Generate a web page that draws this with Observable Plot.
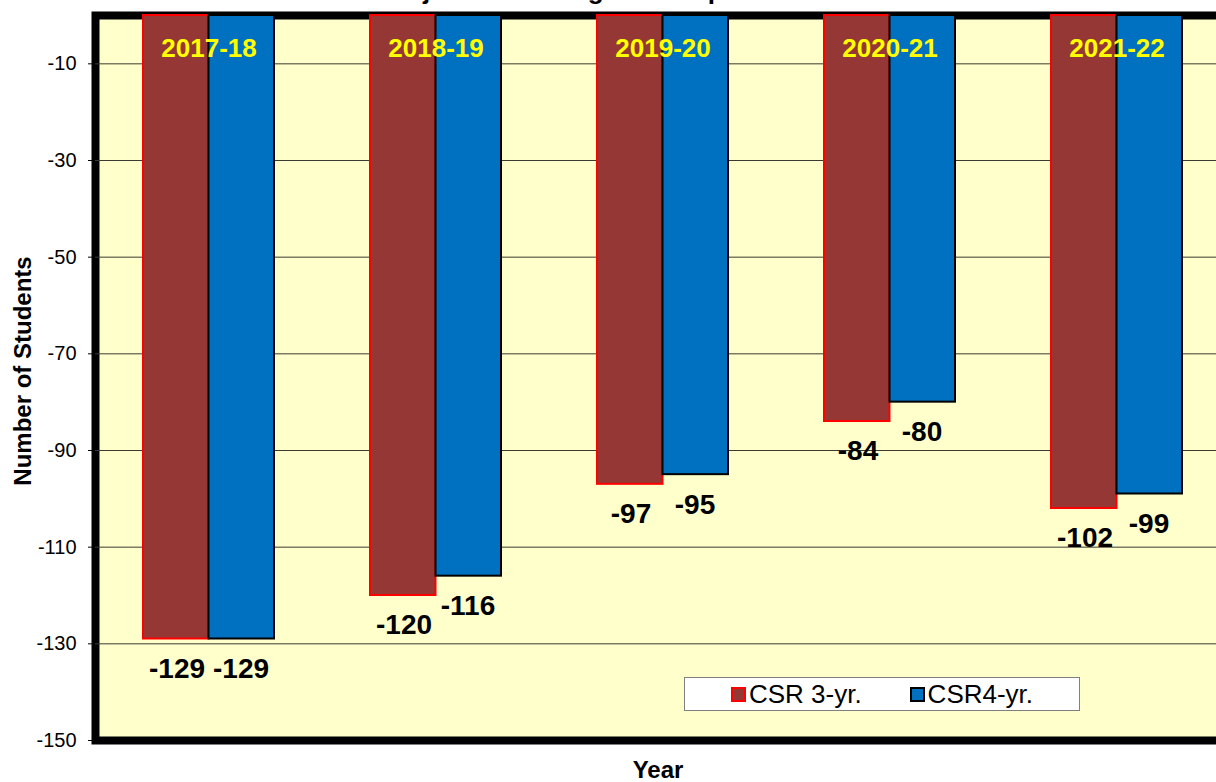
<!DOCTYPE html>
<html>
<head>
<meta charset="utf-8">
<script src="https://cdn.jsdelivr.net/npm/d3@7"></script>
<script src="https://cdn.jsdelivr.net/npm/@observablehq/plot@0.6"></script>
<style>
  html, body { margin: 0; padding: 0; background: #fff; overflow: hidden; }
  body { width: 1216px; height: 782px; font-family: Arial, "Liberation Sans", sans-serif; }
  #wrap { position: relative; width: 1216px; height: 782px; }
  #title { position: absolute; left: 0; width: 1216px; top: -23px; text-align: center;
           font-size: 26px; font-weight: bold; line-height: 26px; color: #000; }
  #chart { position: absolute; left: 0; top: 0; }
  #legend { position: absolute; left: 684px; top: 677px; width: 394px; height: 32px;
            background: #fff; border: 1px solid #808080; display: flex; align-items: center;
            justify-content: center; font-size: 26px; color: #000; }
  .item { display: flex; align-items: center; margin: 0 24px; }
  .sw { width: 11px; height: 11px; margin-right: 3px; }
</style>
</head>
<body>
<div id="wrap">
  <div id="title">Projected Kindergarten Replacement</div>
  <div id="chart"></div>
  <div id="legend">
    <div class="item"><div class="sw" id="sw3"></div><span id="lab3"></span></div>
    <div class="item"><div class="sw" id="sw4"></div><span id="lab4"></span></div>
  </div>
</div>
<script>
const years = ["2017-18", "2018-19", "2019-20", "2020-21", "2021-22"];
const csr3 = [-129, -120, -97, -84, -102];
const csr4 = [-129, -116, -95, -80, -99];
const seriesNames = ["CSR 3-yr.", "CSR4-yr."];
const yTicks = [-10, -30, -50, -70, -90, -110, -130, -150];
const gridTicks = [-10, -30, -50, -70, -90, -110, -130];

const colors = {
  fill3: "#953735", stroke3: "#FF0000",
  fill4: "#0070C0", stroke4: "#000000"
};

const d3rows = years.map((y, i) => ({year: y, value: csr3[i]}));
const d4rows = years.map((y, i) => ({year: y, value: csr4[i]}));

const font = 'Arial, "Liberation Sans", sans-serif';

const chart = Plot.plot({
  width: 1216,
  height: 782,
  marginLeft: 95,
  marginRight: -14,
  marginTop: 15,
  marginBottom: 42,
  style: { fontFamily: font, fontSize: "20px", color: "#000", background: "transparent", overflow: "visible" },
  x: { domain: years, padding: 0, axis: null },
  y: { domain: [-150, 0], ticks: yTicks, tickSize: 7, tickPadding: 12, tickFormat: d => String(d), label: null },
  marks: [
    Plot.frame({ fill: "#FFFFCC", stroke: "#000", strokeWidth: 8 }),
    Plot.ruleY(gridTicks, { stroke: "#3a3a30", strokeWidth: 1 }),
    Plot.barY(d3rows, { x: "year", y: "value", fill: colors.fill3, stroke: colors.stroke3, strokeWidth: 2, insetLeft: 48, insetRight: 113.5 }),
    Plot.barY(d4rows, { x: "year", y: "value", fill: colors.fill4, stroke: colors.stroke4, strokeWidth: 2, insetLeft: 113.5, insetRight: 48 }),
    Plot.text(years, { x: d => d, text: d => d, frameAnchor: "top", lineAnchor: "middle", dy: 33, fill: "#FFFF00", fontSize: 26, fontWeight: "bold" }),
    Plot.text(d3rows, { x: "year", y: "value", text: d => String(d.value), dx: -32, dy: 30, fontSize: 28, fontWeight: "bold", fill: "#000" }),
    Plot.text(d4rows, { x: "year", y: "value", text: d => String(d.value), dx: 32, dy: 30, fontSize: 28, fontWeight: "bold", fill: "#000" }),
    Plot.text(["Number of Students"], { text: d => d, frameAnchor: "left", textAnchor: "middle", lineAnchor: "middle", rotate: -90, dx: -72, dy: -7, fontSize: 24, fontWeight: "bold", fill: "#000" }),
    Plot.text(["Year"], { text: d => d, frameAnchor: "bottom", lineAnchor: "middle", dy: 30, dx: -5, fontSize: 24, fontWeight: "bold", fill: "#000" })
  ]
});
document.getElementById("chart").appendChild(chart);

// legend from the same series definitions
document.getElementById("lab3").textContent = seriesNames[0];
document.getElementById("lab4").textContent = seriesNames[1];
const sw3 = document.getElementById("sw3");
sw3.style.background = colors.fill3; sw3.style.border = "2px solid " + colors.stroke3;
const sw4 = document.getElementById("sw4");
sw4.style.background = colors.fill4; sw4.style.border = "2px solid " + colors.stroke4;
</script>
</body>
</html>
